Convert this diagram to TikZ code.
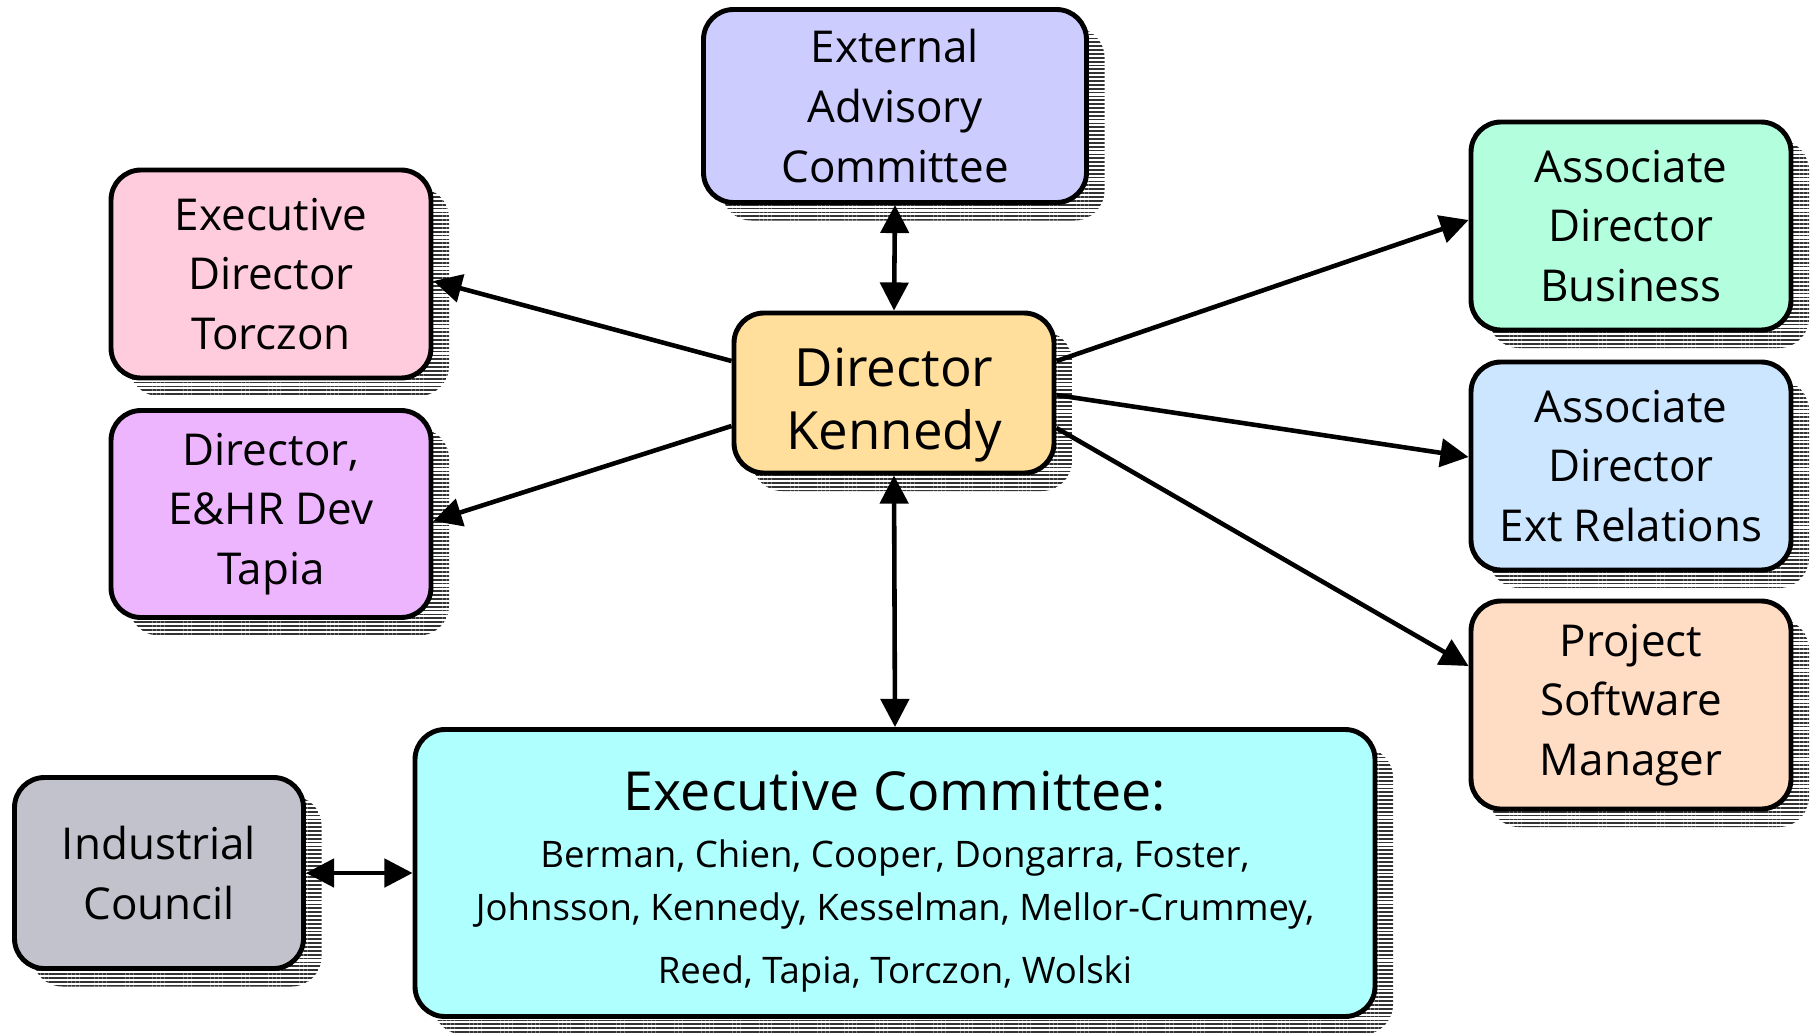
\documentclass[tikz,border=0pt]{standalone}
\usepackage{fontspec}
\setmainfont{Open Sans}
\usetikzlibrary{arrows.meta,shadows,patterns.meta}

\definecolor{advisory}{HTML}{CCCCFF}
\definecolor{director}{HTML}{FFDF9B}
\definecolor{execdir}{HTML}{FFCCDD}
\definecolor{ehrdev}{HTML}{EEB5FF}
\definecolor{business}{HTML}{B3FFDD}
\definecolor{relations}{HTML}{CCE6FF}
\definecolor{software}{HTML}{FFDCC4}
\definecolor{industry}{HTML}{C2C2CC}
\definecolor{committee}{HTML}{B0FFFF}

\tikzset{
    orgbox/.style={draw, line width=1.4pt, rounded corners=3mm, align=center,
        inner sep=0pt, font=\fontsize{12.5}{17}\selectfont,
        drop shadow={shadow xshift=1.8mm, shadow yshift=-1.8mm, opacity=1,
            pattern={Lines[distance=1.1pt, line width=0.5pt]}, pattern color=black!80}},
    link/.style={line width=1.3pt, -{Triangle[length=8pt, width=8pt]}},
    twoway/.style={line width=1.3pt, {Triangle[length=8pt, width=8pt]}-{Triangle[length=8pt, width=8pt]}}
}

\begin{document}
\begin{tikzpicture}
    \useasboundingbox (0,0) rectangle (18.16,10.32);

    \node[orgbox, fill=advisory, minimum width=3.83cm, minimum height=1.93cm] (ext) at (8.95,9.26) {External\\Advisory\\Committee};
    \node[orgbox, fill=director, minimum width=3.20cm, minimum height=1.60cm, font=\fontsize{15}{18}\selectfont] (dir) at (8.94,6.39) {\rule{0pt}{18pt}Director\\Kennedy};
    \node[orgbox, fill=execdir, minimum width=3.20cm, minimum height=2.08cm] (torczon) at (2.71,7.58) {Executive\\Director\\Torczon};
    \node[orgbox, fill=ehrdev, minimum width=3.20cm, minimum height=2.07cm] (ehr) at (2.71,5.18) {Director,\\E\&HR Dev\\Tapia};
    \node[orgbox, fill=business, minimum width=3.20cm, minimum height=2.08cm] (bus) at (16.31,8.06) {Associate\\Director\\Business};
    \node[orgbox, fill=relations, minimum width=3.20cm, minimum height=2.08cm] (rel) at (16.31,5.66) {Associate\\Director\\Ext Relations};
    \node[orgbox, fill=software, minimum width=3.20cm, minimum height=2.08cm] (psm) at (16.31,3.27) {Project\\Software\\Manager};
    \node[orgbox, fill=industry, minimum width=2.89cm, minimum height=1.91cm] (ind) at (1.59,1.59) {Industrial\\Council};
    \node[orgbox, fill=committee, minimum width=9.60cm, minimum height=2.87cm, font=\fontsize{10.4}{15}\selectfont] (exc) at (8.95,1.59)
        {{\fontsize{15.3}{20}\selectfont\rule{0pt}{16.3pt}Executive Committee:}\\[1.3pt]
         Berman, Chien, Cooper, Dongarra, Foster,\\
         Johnsson, Kennedy, Kesselman, Mellor-Crummey,\\[3pt]
         Reed, Tapia, Torczon, Wolski};

    % links out of the director's box
    \draw[twoway] (ext.south) -- (dir.north);
    \draw[twoway] (dir.south) -- (exc.north);
    \draw[twoway] (ind.east) -- (exc.west);
    \draw[link] ([yshift=3.2mm]dir.west) -- ([yshift=-0.7mm]torczon.east);
    \draw[link] ([yshift=-3.3mm]dir.west) -- ([yshift=-0.7mm]ehr.east);
    \draw[link] ([yshift=3.2mm]dir.east) -- ([yshift=0.6mm]bus.west);
    \draw[link] ([yshift=-0.2mm]dir.east) -- ([yshift=0.9mm]rel.west);
    \draw[link] ([yshift=-3.5mm]dir.east) -- ([yshift=3.9mm]psm.west);
\end{tikzpicture}
\end{document}
